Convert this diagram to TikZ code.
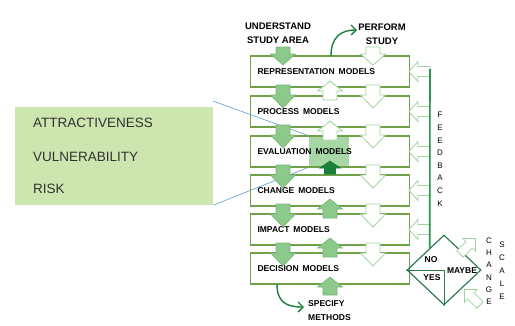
\documentclass[tikz,border=0pt]{standalone}
\usepackage{fontspec}
\setmainfont{Liberation Sans}
\usetikzlibrary{shapes.geometric,calc,arrows.meta}

\definecolor{boxline}{RGB}{112,160,72}
\definecolor{lightarr}{RGB}{141,201,139}
\definecolor{lightarrline}{RGB}{118,184,118}
\definecolor{whitearrline}{RGB}{160,210,160}
\definecolor{darkarr}{RGB}{26,127,58}
\definecolor{fbline}{RGB}{40,150,80}
\definecolor{diamline}{RGB}{46,125,80}
\definecolor{lensfill}{RGB}{205,229,174}
\definecolor{evalfill}{RGB}{167,215,165}
\definecolor{zoomline}{RGB}{91,155,213}
\definecolor{lenstext}{RGB}{50,50,50}

% block arrow: style, x, y, angle, length, head length, shaft half, head half
\newcommand{\blockarr}[8]{\draw[#1,shift={(#2,#3)},rotate=#4] (0,-#7) -- ({#5-#6},-#7) -- ({#5-#6},-#8) -- (#5,0) -- ({#5-#6},#8) -- ({#5-#6},#7) -- (0,#7) -- cycle;}

\tikzset{
  mbox/.style={draw=boxline, line width=1.1pt, minimum width=159pt, minimum height=31pt,
    text width=145pt, inner xsep=7pt, inner ysep=0pt, align=left, anchor=west,
    font=\bfseries\fontsize{8.5}{10}\selectfont},
  garr/.style={fill=lightarr, draw=lightarrline, line width=0.6pt},
  warr/.style={fill=white, draw=whitearrline, line width=0.8pt},
  darr/.style={fill=darkarr, draw=darkarr, line width=0.6pt},
  lensbox/.style={fill=lensfill, minimum width=198pt, minimum height=98pt, inner sep=0pt},
  lenstxt/.style={anchor=west, inner sep=0pt, text=lenstext, font=\fontsize{13.5}{16}\selectfont},
  evalsq/.style={fill=evalfill, minimum width=40pt, minimum height=31pt, inner sep=0pt},
  zoomln/.style={draw=zoomline, line width=0.6pt},
  toplab/.style={align=center, inner sep=1pt, font=\bfseries\fontsize{9.5}{14}\selectfont},
  speclab/.style={align=left, anchor=west, inner sep=1pt, font=\bfseries\fontsize{8.5}{14}\selectfont},
  curvarr/.style={draw=darkarr, line width=1.4pt, -{Straight Barb[length=5pt,width=10pt]}},
  fbln/.style={draw=fbline, line width=1.6pt},
  vlet/.style={inner sep=0pt, font=\fontsize{8}{9}\selectfont},
  choice/.style={inner sep=0pt, font=\bfseries\fontsize{8.5}{10}\selectfont}
}

\begin{document}
\begin{tikzpicture}[x=1pt,y=-1pt]
\useasboundingbox (0,0) rectangle (515,325);

% criteria box
\node[lensbox] (lens) at (114,156) {};
\node[lenstxt] (attr) at (33,123) {ATTRACTIVENESS};
\node[lenstxt] (vuln) at (33,157) {VULNERABILITY};
\node[lenstxt] (risk) at (33,189) {RISK};

\node[evalsq] (evalsq) at (329,151.5) {};
\coordinate (lenstop) at (213,101);
\draw[zoomln] (lenstop) -- (evalsq.north west);
\draw[zoomln] (lens.south east) -- (evalsq.south west);

% model boxes
\foreach \nm/\txt/\yc in {rep/REPRESENTATION/71.5, proc/PROCESS/111.5, eval/EVALUATION/151.5,
    chg/CHANGE/190.5, imp/IMPACT/229.5, dec/DECISION/268.5}
    {\node[mbox] (\nm) at (250,\yc) {\txt\hspace{4pt}MODELS};}

% down arrows
\blockarr{garr}{283}{47}{-90}{18}{11}{7}{12.5}
\blockarr{warr}{373}{47}{-90}{18}{11}{7}{12.5}
\foreach \yt in {85,125,165,204,243}
    {\blockarr{garr}{283}{\yt}{-90}{23}{13}{7}{12.5}
    \blockarr{warr}{373}{\yt}{-90}{23}{13}{7}{12.5}}

% up arrows
\foreach \yt in {100,140}
    {\blockarr{warr}{330}{\yt}{90}{19}{10}{7}{12.5}}
\blockarr{darr}{330}{174}{90}{13}{7}{5.5}{10.5}
\foreach \yt in {218,257}
    {\blockarr{garr}{330}{\yt}{90}{19}{10}{7}{12.5}}
\blockarr{garr}{330}{295}{90}{18}{10}{7}{12.5}

% top and bottom labels
\node[toplab] (und) at (278,33.5) {UNDERSTAND\\STUDY AREA};
\node[toplab] (perf) at (382,34.5) {PERFORM\\STUDY};
\coordinate (repout) at (331,56);
\coordinate (perfin) at (357,30);
\draw[curvarr] (repout) .. controls (331,38) and (340,30) .. (perfin);

\node[speclab] (spec) at (307,311) {SPECIFY\\METHODS};
\coordinate (decout) at (277,284);
\coordinate (specin) at (304,307);
\draw[curvarr] (decout) .. controls (277,302) and (286,307) .. (specin);

% decision diamond and feedback
\node[diamond, draw=diamline, line width=1.2pt, minimum width=74pt, minimum height=70pt, inner sep=0pt] (dia) at (444,270) {};
\draw[draw=diamline, line width=0.9pt] (dia.west) -- (dia.center) -- (dia.south);
\node[choice] (no) at (431,260) {NO};
\node[choice] (yes) at (432,278) {YES};
\node[choice] (maybe) at (462,271) {MAYBE};

\foreach \yc in {71.5,111.5,151.5,190.5,229.5}
    {\blockarr{warr}{430}{\yc}{180}{21}{9}{5}{10}}
\coordinate (fbtop) at (430,69);
\coordinate (fbbot) at ($(dia.west)!0.62!(dia.north)$);
\draw[fbln] (fbtop) -- (fbbot);

\blockarr{warr}{460}{254}{45}{22}{9}{4.5}{9}
\blockarr{warr}{480}{305}{135}{22}{9}{4.5}{9}

\foreach \l [count=\i] in {F,E,E,D,B,A,C,K}
    {\node[vlet] (fb\i) at (440,{102.5+12.6*\i}) {\l};}
\foreach \l [count=\i] in {C,H,A,N,G,E}
    {\node[vlet] (ch\i) at (489,{228.5+12.2*\i}) {\l};}
\foreach \l [count=\i] in {S,C,A,L,E}
    {\node[vlet] (sc\i) at (502,{232+13*\i}) {\l};}
\end{tikzpicture}
\end{document}
